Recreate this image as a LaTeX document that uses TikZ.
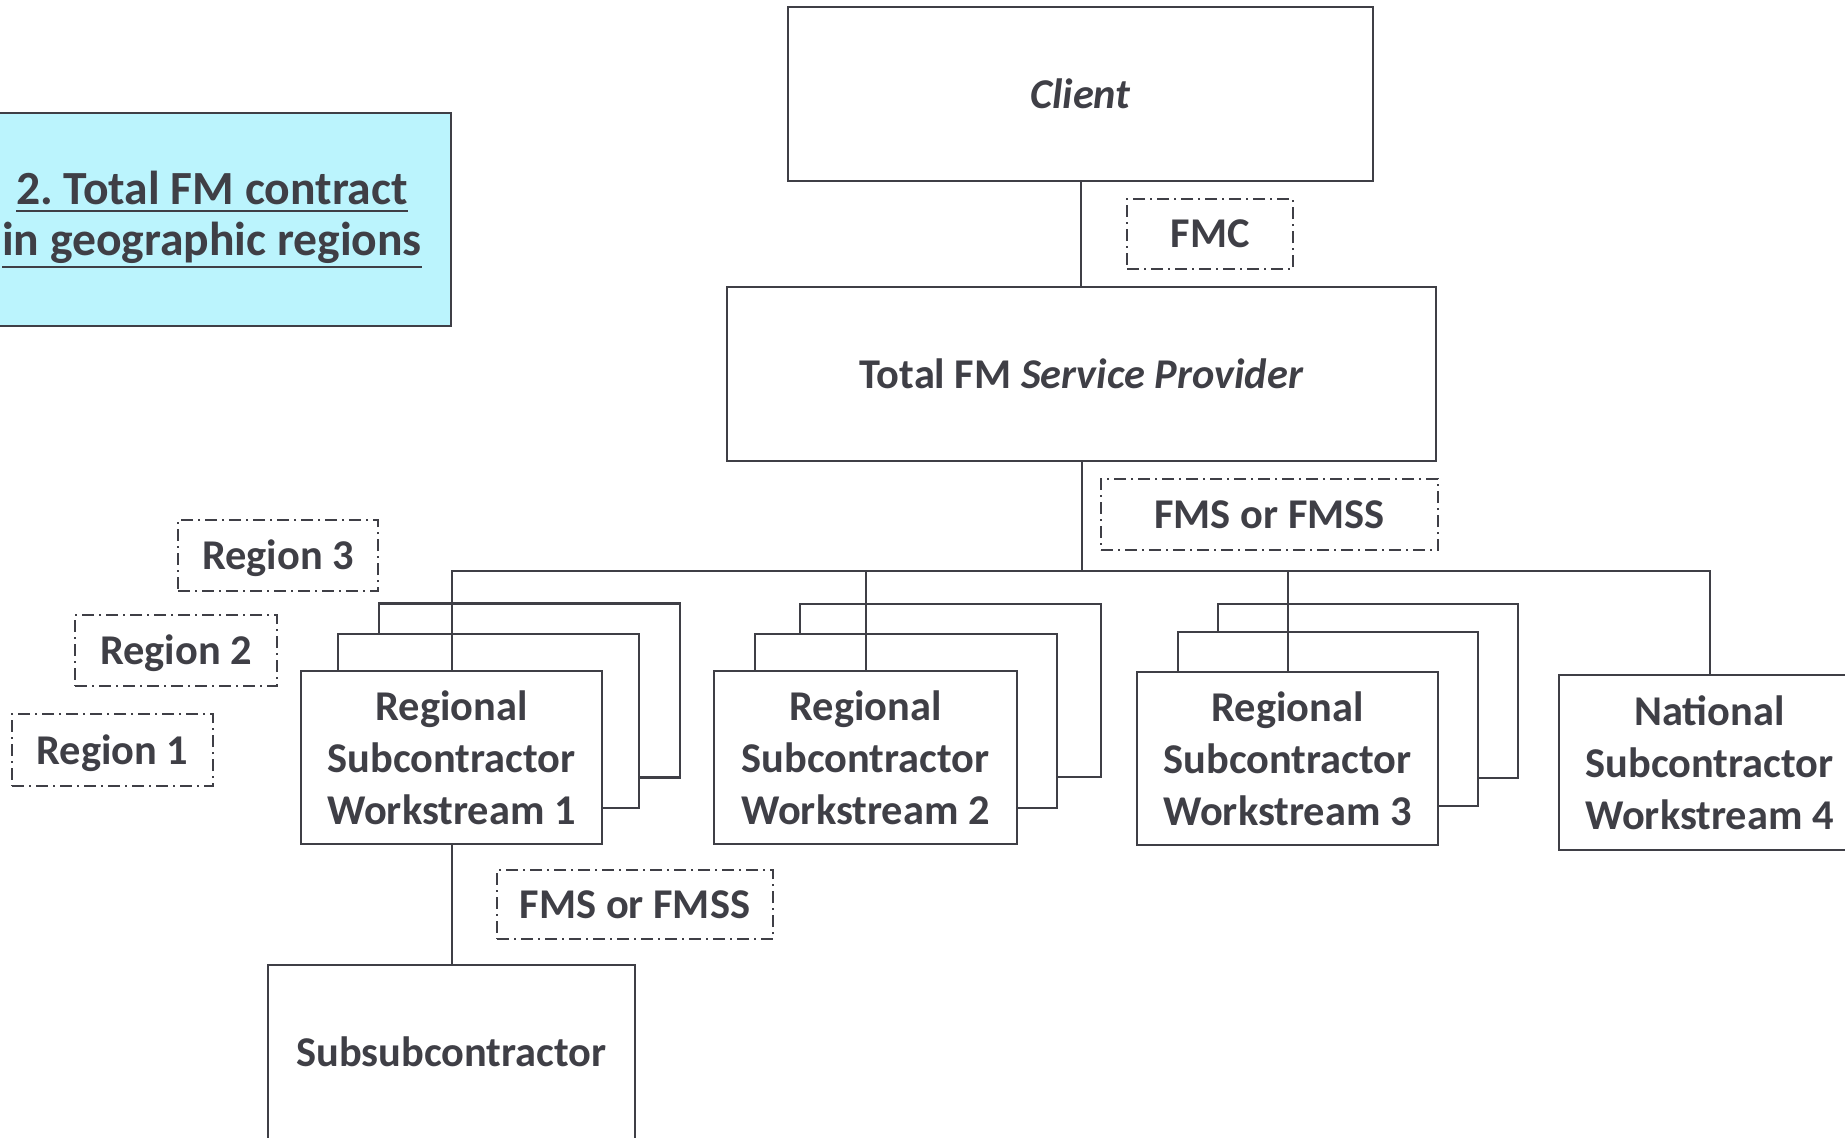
\documentclass[tikz,border=0pt]{standalone}
\usepackage{fontspec}
\setmainfont{Carlito}
\frenchspacing
\definecolor{ink}{HTML}{3F3F46}
\definecolor{titlefill}{HTML}{BBF4FD}
% underline at a chosen depth below the baseline
\newsavebox\ulbox
\newcommand{\myuline}[2]{\sbox\ulbox{#2}\rlap{\rule[-#1]{\wd\ulbox}{1.35pt}}\usebox\ulbox}

\begin{document}
\begin{tikzpicture}[x=0.5pt,y=-0.5pt,
  txt/.style={text=ink, font=\fontsize{21.2}{26}\selectfont\bfseries, align=center},
  box/.style 2 args={draw=ink, line width=1.3pt, fill=white, inner sep=0pt,
    minimum width=#1*0.5pt, minimum height=#2*0.5pt, txt},
  tag/.style 2 args={draw=ink, line width=1.1pt, dash pattern=on 6pt off 2.5pt on 1pt off 2.5pt,
    inner sep=0pt, minimum width=#1*0.5pt, minimum height=#2*0.5pt, txt},
  lowtext/.style={text height=18.7pt, text depth=4.6pt},
  link/.style={draw=ink, line width=1pt}]
\useasboundingbox (0,0) rectangle (1845,1137);

% heading
\node[box={478}{213}, fill=titlefill, font=\fontsize{23.8}{25.5}\selectfont\bfseries]
  (title) at (212,219.5)
  {\myuline{4pt}{2. Total FM contract}\\
   \myuline{6.5pt}{in geographic regions}};

% top of the hierarchy
\node[box={585}{174}] (client) at (1080.5,94) {\textit{Client}};
\node[box={709}{174}] (tfm) at (1081.5,374) {Total FM \textit{Service Provider}};
\node[tag={166}{70}] (fmc) at (1210,234) {FMC};
\node[tag={337}{71}] (fms1) at (1269.5,514.5) {FMS or FMSS};

% regional workstreams, each with two stacked copies behind
\node[box={301}{174}] (ws1c) at (529.5,690.5) {};
\node[box={301}{174}] (ws1b) at (488.5,721) {};
\node[box={301}{173}] (ws1) at (451.5,757.5) {Regional\\Subcontractor\\Workstream 1};

\node[box={301}{173}] (ws2c) at (950.5,690.5) {};
\node[box={302}{174}] (ws2b) at (906,721) {};
\node[box={303}{173}] (ws2) at (865.5,757.5) {Regional\\Subcontractor\\Workstream 2};

\node[box={300}{174}] (ws3c) at (1368,691) {};
\node[box={300}{174}] (ws3b) at (1328,719) {};
\node[box={301}{173}] (ws3) at (1287.5,758.5) {Regional\\Subcontractor\\Workstream 3};

\node[box={301}{175}] (ws4) at (1709.5,762.5) {National\\Subcontractor\\Workstream 4};

% region labels
\node[tag={200}{71}, lowtext] (r3) at (278,555.5) {Region 3};
\node[tag={202}{71}, lowtext] (r2) at (176,650.5) {Region 2};
\node[tag={201}{72}, lowtext] (r1) at (112.5,750) {Region 1};

% lower level
\node[tag={276}{69}] (fms2) at (635,904.5) {FMS or FMSS};
\node[box={367}{174}] (subsub) at (451.5,1052) {Subsubcontractor};

% connectors
\coordinate (bus) at (1081.5,571);
\draw[link] (client.south) -- (client.south |- tfm.north);
\draw[link] (tfm.south) -- (tfm.south |- bus);
\draw[link] (ws1.north) -- (ws1.north |- bus) -- (ws4.north |- bus) -- (ws4.north);
\draw[link] (ws2.north) -- (ws2.north |- bus);
\draw[link] (ws3.north) -- (ws3.north |- bus);
\draw[link] (ws1.south) -- (subsub.north);
\end{tikzpicture}
\end{document}
